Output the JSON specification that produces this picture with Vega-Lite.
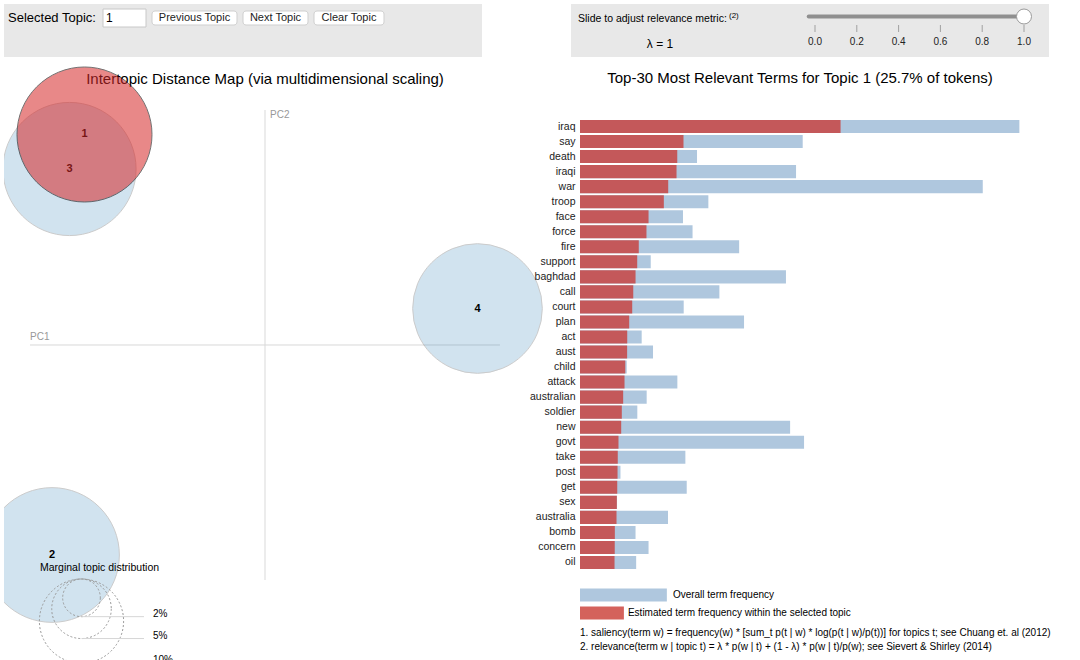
{
  "$schema": "https://vega.github.io/schema/vega-lite/v6.json",
  "padding": {"left": 4, "top": 4, "right": 0, "bottom": 0},
  "background": "white",
  "config": {
    "view": {"stroke": null},
    "font": "Liberation Sans"
  },
  "datasets": {
    "one": [{"k": 1}],
    "slider": [{"lambda": 1}],
    "lambdaTicks": [{"v": 0}, {"v": 0.2}, {"v": 0.4}, {"v": 0.6}, {"v": 0.8}, {"v": 1}],
    "topics": [
      {"topic": 3, "PC1": -0.16638, "PC2": 0.14979, "freq": 25.0},
      {"topic": 2, "PC1": -0.18128, "PC2": -0.17872, "freq": 25.6},
      {"topic": 4, "PC1": 0.18085, "PC2": 0.03106, "freq": 23.7},
      {"topic": 1, "PC1": -0.15362, "PC2": 0.17915, "freq": 25.7}
    ],
    "terms": [
      {"Term": "iraq", "Freq": 250.5, "Total": 422.4},
      {"Term": "say", "Freq": 99.5, "Total": 214.1},
      {"Term": "death", "Freq": 93.5, "Total": 112.5},
      {"Term": "iraqi", "Freq": 92.8, "Total": 207.7},
      {"Term": "war", "Freq": 84.8, "Total": 387.2},
      {"Term": "troop", "Freq": 80.6, "Total": 123.4},
      {"Term": "face", "Freq": 65.9, "Total": 99.0},
      {"Term": "force", "Freq": 63.9, "Total": 108.2},
      {"Term": "fire", "Freq": 56.5, "Total": 153.0},
      {"Term": "support", "Freq": 55.0, "Total": 68.0},
      {"Term": "baghdad", "Freq": 53.4, "Total": 198.0},
      {"Term": "call", "Freq": 51.2, "Total": 134.0},
      {"Term": "court", "Freq": 50.2, "Total": 99.7},
      {"Term": "plan", "Freq": 47.3, "Total": 157.7},
      {"Term": "act", "Freq": 45.4, "Total": 59.3},
      {"Term": "aust", "Freq": 45.3, "Total": 70.2},
      {"Term": "child", "Freq": 43.5, "Total": 44.9},
      {"Term": "attack", "Freq": 42.8, "Total": 93.6},
      {"Term": "australian", "Freq": 41.5, "Total": 64.1},
      {"Term": "soldier", "Freq": 40.2, "Total": 55.1},
      {"Term": "new", "Freq": 39.6, "Total": 202.0},
      {"Term": "govt", "Freq": 37.0, "Total": 215.4},
      {"Term": "take", "Freq": 36.3, "Total": 101.3},
      {"Term": "post", "Freq": 36.1, "Total": 38.9},
      {"Term": "get", "Freq": 35.8, "Total": 102.6},
      {"Term": "sex", "Freq": 35.4, "Total": 35.6},
      {"Term": "australia", "Freq": 35.1, "Total": 84.6},
      {"Term": "bomb", "Freq": 33.5, "Total": 53.4},
      {"Term": "concern", "Freq": 33.4, "Total": 65.9},
      {"Term": "oil", "Freq": 33.2, "Total": 54.0}
    ]
  },
  "bounds": "full",
  "spacing": 0,
  "vconcat": [
    {
      "bounds": "flush",
      "spacing": 89,
      "hconcat": [
        {
          "width": 478,
          "height": 53,
          "view": {"fill": "#e8e8e8", "stroke": null},
          "data": {"name": "one"},
          "layer": [
            {"mark": {"type": "text", "text": "Selected Topic:", "align": "left", "baseline": "middle", "fontSize": 13, "color": "#000"},
             "encoding": {"x": {"datum": 4, "type": "quantitative", "scale": {"domain": [0, 478], "nice": false, "zero": false}, "axis": null},
                          "y": {"datum": 14, "type": "quantitative", "scale": {"domain": [0, 53], "reverse": true, "nice": false, "zero": false}, "axis": null}}},
            {"mark": {"type": "rect", "fill": "#ffffff", "stroke": "#c8c8c8", "strokeWidth": 1},
             "encoding": {"x": {"datum": 99, "type": "quantitative", "scale": {"domain": [0, 478], "nice": false, "zero": false}, "axis": null}, "x2": {"datum": 142},
                          "y": {"datum": 5, "type": "quantitative", "scale": {"domain": [0, 53], "reverse": true, "nice": false, "zero": false}, "axis": null}, "y2": {"datum": 23}}},
            {"mark": {"type": "text", "text": "1", "align": "left", "baseline": "middle", "fontSize": 12, "color": "#000"},
             "encoding": {"x": {"datum": 102, "type": "quantitative", "scale": {"domain": [0, 478], "nice": false, "zero": false}, "axis": null},
                          "y": {"datum": 14, "type": "quantitative", "scale": {"domain": [0, 53], "reverse": true, "nice": false, "zero": false}, "axis": null}}},
            {"mark": {"type": "rect", "fill": "#ffffff", "stroke": "#cfcfcf", "strokeWidth": 1, "cornerRadius": 3},
             "encoding": {"x": {"datum": 148, "type": "quantitative", "scale": {"domain": [0, 478], "nice": false, "zero": false}, "axis": null}, "x2": {"datum": 233},
                          "y": {"datum": 7, "type": "quantitative", "scale": {"domain": [0, 53], "reverse": true, "nice": false, "zero": false}, "axis": null}, "y2": {"datum": 21}}},
            {"mark": {"type": "rect", "fill": "#ffffff", "stroke": "#cfcfcf", "strokeWidth": 1, "cornerRadius": 3},
             "encoding": {"x": {"datum": 239, "type": "quantitative", "scale": {"domain": [0, 478], "nice": false, "zero": false}, "axis": null}, "x2": {"datum": 304},
                          "y": {"datum": 7, "type": "quantitative", "scale": {"domain": [0, 53], "reverse": true, "nice": false, "zero": false}, "axis": null}, "y2": {"datum": 21}}},
            {"mark": {"type": "rect", "fill": "#ffffff", "stroke": "#cfcfcf", "strokeWidth": 1, "cornerRadius": 3},
             "encoding": {"x": {"datum": 310, "type": "quantitative", "scale": {"domain": [0, 478], "nice": false, "zero": false}, "axis": null}, "x2": {"datum": 380},
                          "y": {"datum": 7, "type": "quantitative", "scale": {"domain": [0, 53], "reverse": true, "nice": false, "zero": false}, "axis": null}, "y2": {"datum": 21}}},
            {"mark": {"type": "text", "text": "Previous Topic", "align": "center", "baseline": "middle", "fontSize": 11, "color": "#222"},
             "encoding": {"x": {"datum": 190.5, "type": "quantitative", "scale": {"domain": [0, 478], "nice": false, "zero": false}, "axis": null},
                          "y": {"datum": 14, "type": "quantitative", "scale": {"domain": [0, 53], "reverse": true, "nice": false, "zero": false}, "axis": null}}},
            {"mark": {"type": "text", "text": "Next Topic", "align": "center", "baseline": "middle", "fontSize": 11, "color": "#222"},
             "encoding": {"x": {"datum": 271.5, "type": "quantitative", "scale": {"domain": [0, 478], "nice": false, "zero": false}, "axis": null},
                          "y": {"datum": 14, "type": "quantitative", "scale": {"domain": [0, 53], "reverse": true, "nice": false, "zero": false}, "axis": null}}},
            {"mark": {"type": "text", "text": "Clear Topic", "align": "center", "baseline": "middle", "fontSize": 11, "color": "#222"},
             "encoding": {"x": {"datum": 345, "type": "quantitative", "scale": {"domain": [0, 478], "nice": false, "zero": false}, "axis": null},
                          "y": {"datum": 14, "type": "quantitative", "scale": {"domain": [0, 53], "reverse": true, "nice": false, "zero": false}, "axis": null}}}
          ]
        },
        {
          "width": 478,
          "height": 53,
          "view": {"fill": "#e8e8e8", "stroke": null},
          "layer": [
            {"data": {"name": "one"},
             "mark": {"type": "text", "text": "Slide to adjust relevance metric:", "align": "left", "baseline": "middle", "fontSize": 10.5, "color": "#000"},
             "encoding": {"x": {"datum": -1.133971, "type": "quantitative", "scale": {"domain": [-1.167464, 1.119617], "nice": false, "zero": false}, "axis": null},
                          "y": {"datum": 15, "type": "quantitative", "scale": {"domain": [0, 53], "reverse": true, "nice": false, "zero": false}, "axis": null}}},
            {"data": {"name": "one"},
             "mark": {"type": "text", "text": "(2)", "align": "left", "baseline": "middle", "fontSize": 8, "color": "#000"},
             "encoding": {"x": {"datum": -0.4115, "type": "quantitative", "scale": {"domain": [-1.167464, 1.119617], "nice": false, "zero": false}, "axis": null},
                          "y": {"datum": 11.5, "type": "quantitative", "scale": {"domain": [0, 53], "reverse": true, "nice": false, "zero": false}, "axis": null}}},
            {"data": {"name": "one"},
             "mark": {"type": "text", "text": "λ = 1", "align": "center", "baseline": "middle", "fontSize": 12, "color": "#000"},
             "encoding": {"x": {"datum": -0.741627, "type": "quantitative", "scale": {"domain": [-1.167464, 1.119617], "nice": false, "zero": false}, "axis": null},
                          "y": {"datum": 40, "type": "quantitative", "scale": {"domain": [0, 53], "reverse": true, "nice": false, "zero": false}, "axis": null}}},
            {"data": {"name": "lambdaTicks"},
             "mark": {"type": "rule", "color": "#a0a0a0", "strokeWidth": 1},
             "encoding": {"x": {"field": "v", "type": "quantitative", "scale": {"domain": [-1.167464, 1.119617], "nice": false, "zero": false}, "axis": null},
                          "y": {"datum": 21, "type": "quantitative", "scale": {"domain": [0, 53], "reverse": true, "nice": false, "zero": false}, "axis": null}, "y2": {"datum": 28}}},
            {"data": {"name": "lambdaTicks"},
             "mark": {"type": "text", "align": "center", "baseline": "middle", "fontSize": 10, "color": "#222"},
             "encoding": {"x": {"field": "v", "type": "quantitative", "scale": {"domain": [-1.167464, 1.119617], "nice": false, "zero": false}, "axis": null},
                          "y": {"datum": 37.7, "type": "quantitative", "scale": {"domain": [0, 53], "reverse": true, "nice": false, "zero": false}, "axis": null},
                          "text": {"field": "v", "type": "quantitative", "format": ".1f"}}},
            {"data": {"name": "one"},
             "mark": {"type": "rule", "color": "#8f8f8f", "strokeWidth": 4, "strokeCap": "round"},
             "encoding": {"x": {"datum": -0.03, "type": "quantitative", "scale": {"domain": [-1.167464, 1.119617], "nice": false, "zero": false}, "axis": null}, "x2": {"datum": 1.0},
                          "y": {"datum": 12.5, "type": "quantitative", "scale": {"domain": [0, 53], "reverse": true, "nice": false, "zero": false}, "axis": null}}},
            {"data": {"name": "slider"},
             "mark": {"type": "point", "shape": "circle", "filled": true, "fill": "#ffffff", "stroke": "#9a9a9a", "strokeWidth": 1, "size": 225, "opacity": 1},
             "encoding": {"x": {"field": "lambda", "type": "quantitative", "scale": {"domain": [-1.167464, 1.119617], "nice": false, "zero": false}, "axis": null},
                          "y": {"datum": 12.5, "type": "quantitative", "scale": {"domain": [0, 53], "reverse": true, "nice": false, "zero": false}, "axis": null}}}
          ]
        }
      ]
    },
    {
      "bounds": "flush",
      "spacing": 36,
      "hconcat": [
        {
          "width": 540,
          "height": 603,
          "layer": [
            {"data": {"name": "one"},
             "mark": {"type": "rule", "color": "#d9d9d9", "strokeWidth": 1, "clip": true},
             "encoding": {"x": {"datum": -0.2, "type": "quantitative", "scale": {"domain": [-0.222128, 0.237447], "nice": false, "zero": false}, "axis": null}, "x2": {"datum": 0.2},
                          "y": {"datum": 0, "type": "quantitative", "scale": {"domain": [-0.268085, 0.245106], "nice": false, "zero": false}, "axis": null}}},
            {"data": {"name": "one"},
             "mark": {"type": "rule", "color": "#d9d9d9", "strokeWidth": 1, "clip": true},
             "encoding": {"x": {"datum": 0, "type": "quantitative", "axis": null},
                          "y": {"datum": -0.2, "type": "quantitative", "axis": null}, "y2": {"datum": 0.2}}},
            {"data": {"name": "one"},
             "mark": {"type": "text", "text": "PC1", "align": "left", "baseline": "bottom", "dy": -3, "fontSize": 10, "color": "#999999"},
             "encoding": {"x": {"datum": -0.2, "type": "quantitative", "axis": null},
                          "y": {"datum": 0, "type": "quantitative", "axis": null}}},
            {"data": {"name": "one"},
             "mark": {"type": "text", "text": "PC2", "align": "left", "baseline": "top", "dx": 5, "fontSize": 10, "color": "#999999"},
             "encoding": {"x": {"datum": 0, "type": "quantitative", "axis": null},
                          "y": {"datum": 0.2, "type": "quantitative", "axis": null}}},
            {"data": {"name": "one"},
             "mark": {"type": "text", "text": "Intertopic Distance Map (via multidimensional scaling)", "align": "center", "baseline": "middle", "fontSize": 15, "color": "#000"},
             "encoding": {"x": {"datum": 0, "type": "quantitative", "axis": null},
                          "y": {"datum": 0.22638, "type": "quantitative", "axis": null}}},
            {"data": {"name": "topics"},
             "transform": [{"filter": "datum.topic != 1"}],
             "mark": {"type": "point", "shape": "circle", "filled": true, "fill": "#1f77b4", "stroke": "#000000", "strokeWidth": 1, "opacity": 0.2, "clip": true},
             "encoding": {"x": {"field": "PC1", "type": "quantitative", "axis": null},
                          "y": {"field": "PC2", "type": "quantitative", "axis": null},
                          "size": {"field": "freq", "type": "quantitative", "scale": {"type": "linear", "domain": [0, 100], "range": [0, 70914], "zero": true}, "legend": null}}},
            {"data": {"name": "topics"},
             "mark": {"type": "text", "align": "center", "baseline": "middle", "fontSize": 11, "fontWeight": "bold", "color": "#000"},
             "encoding": {"x": {"field": "PC1", "type": "quantitative", "axis": null},
                          "y": {"field": "PC2", "type": "quantitative", "axis": null},
                          "text": {"field": "topic", "type": "nominal"}}},
            {"data": {"name": "topics"},
             "transform": [{"filter": "datum.topic == 1"}],
             "mark": {"type": "point", "shape": "circle", "filled": true, "fill": "#d62728", "stroke": "#000000", "strokeWidth": 1, "opacity": 0.55, "clip": true},
             "encoding": {"x": {"field": "PC1", "type": "quantitative", "axis": null},
                          "y": {"field": "PC2", "type": "quantitative", "axis": null},
                          "size": {"field": "freq", "type": "quantitative", "legend": null}}},
            {"data": {"name": "one"},
             "mark": {"type": "text", "text": "Marginal topic distribution", "align": "left", "baseline": "alphabetic", "fontSize": 10.5, "color": "#000"},
             "encoding": {"x": {"datum": -0.19149, "type": "quantitative", "axis": null},
                          "y": {"datum": -0.19234, "type": "quantitative", "axis": null}}},
            {"data": {"name": "one"},
             "mark": {"type": "point", "shape": "circle", "filled": false, "stroke": "#999999", "strokeWidth": 1, "strokeDash": [2, 2], "opacity": 1, "clip": true},
             "encoding": {"x": {"datum": -0.15617, "type": "quantitative", "axis": null},
                          "y": {"datum": -0.21517, "type": "quantitative", "axis": null},
                          "size": {"datum": 2, "type": "quantitative", "legend": null}}},
            {"data": {"name": "one"},
             "mark": {"type": "point", "shape": "circle", "filled": false, "stroke": "#999999", "strokeWidth": 1, "strokeDash": [2, 2], "opacity": 1, "clip": true},
             "encoding": {"x": {"datum": -0.15617, "type": "quantitative", "axis": null},
                          "y": {"datum": -0.22449, "type": "quantitative", "axis": null},
                          "size": {"datum": 5, "type": "quantitative", "legend": null}}},
            {"data": {"name": "one"},
             "mark": {"type": "point", "shape": "circle", "filled": false, "stroke": "#999999", "strokeWidth": 1, "strokeDash": [2, 2], "opacity": 1, "clip": true},
             "encoding": {"x": {"datum": -0.15617, "type": "quantitative", "axis": null},
                          "y": {"datum": -0.23498, "type": "quantitative", "axis": null},
                          "size": {"datum": 10, "type": "quantitative", "legend": null}}},
            {"data": {"name": "one"},
             "mark": {"type": "rule", "color": "#d6d6d6", "strokeWidth": 1, "clip": true},
             "encoding": {"x": {"datum": -0.15617, "type": "quantitative", "axis": null}, "x2": {"datum": -0.10298},
                          "y": {"datum": -0.2312, "type": "quantitative", "axis": null}}},
            {"data": {"name": "one"},
             "mark": {"type": "rule", "color": "#d6d6d6", "strokeWidth": 1, "clip": true},
             "encoding": {"x": {"datum": -0.15617, "type": "quantitative", "axis": null}, "x2": {"datum": -0.10298},
                          "y": {"datum": -0.24982, "type": "quantitative", "axis": null}}},
            {"data": {"name": "one"},
             "mark": {"type": "rule", "color": "#d6d6d6", "strokeWidth": 1, "clip": true},
             "encoding": {"x": {"datum": -0.15617, "type": "quantitative", "axis": null}, "x2": {"datum": -0.10298},
                          "y": {"datum": -0.27081, "type": "quantitative", "axis": null}}},
            {"data": {"name": "one"},
             "mark": {"type": "text", "text": "2%", "align": "left", "baseline": "alphabetic", "fontSize": 10, "color": "#000", "clip": true},
             "encoding": {"x": {"datum": -0.09532, "type": "quantitative", "axis": null},
                          "y": {"datum": -0.2312, "type": "quantitative", "axis": null}}},
            {"data": {"name": "one"},
             "mark": {"type": "text", "text": "5%", "align": "left", "baseline": "alphabetic", "fontSize": 10, "color": "#000", "clip": true},
             "encoding": {"x": {"datum": -0.09532, "type": "quantitative", "axis": null},
                          "y": {"datum": -0.24982, "type": "quantitative", "axis": null}}},
            {"data": {"name": "one"},
             "mark": {"type": "text", "text": "10%", "align": "left", "baseline": "alphabetic", "fontSize": 10, "color": "#000", "clip": true},
             "encoding": {"x": {"datum": -0.09532, "type": "quantitative", "axis": null},
                          "y": {"datum": -0.27081, "type": "quantitative", "axis": null}}}
          ]
        },
        {
          "bounds": "flush",
          "spacing": 16,
          "vconcat": [
            {
              "width": 440,
              "height": 45.5,
              "data": {"values": [{"title": "Top-30 Most Relevant Terms for Topic 1 (25.7% of tokens)"}]},
              "mark": {"type": "text", "align": "center", "baseline": "middle", "fontSize": 15, "color": "#000", "dy": -2},
              "encoding": {"text": {"field": "title", "type": "nominal"}}
            },
            {
              "width": 440,
              "height": 451,
              "data": {"name": "terms"},
              "encoding": {
                "y": {"field": "Term", "type": "nominal", "sort": null,
                      "scale": {"paddingInner": 0.13, "paddingOuter": 0.065},
                      "axis": {"title": null, "ticks": false, "domain": false, "labelPadding": 5, "labelFontSize": 10.5, "labelColor": "#222"}}
              },
              "layer": [
                {"mark": {"type": "bar", "color": "#afc7de"},
                 "encoding": {"x": {"field": "Total", "type": "quantitative", "scale": {"domain": [0, 423], "nice": false},
                                    "axis": {"orient": "top", "values": [0, 100, 200, 300, 400], "title": null, "grid": false, "ticks": false, "domain": false, "labelPadding": 9, "labelFontSize": 10.5, "labelColor": "#222", "labelFlush": false}}}},
                {"mark": {"type": "bar", "color": "#c4585a"},
                 "encoding": {"x": {"field": "Freq", "type": "quantitative", "axis": null}}}
              ]
            },
            {
              "width": 440,
              "height": 36,
              "data": {"name": "one"},
              "title": {
                "text": ["1. saliency(term w) = frequency(w) * [sum_t p(t | w) * log(p(t | w)/p(t))] for topics t; see Chuang et. al (2012)",
                         "2. relevance(term w | topic t) = λ * p(w | t) + (1 - λ) * p(w | t)/p(w); see Sievert & Shirley (2014)"],
                "orient": "bottom", "anchor": "start", "frame": "group", "fontSize": 10, "fontWeight": "normal", "lineHeight": 14, "offset": 6, "color": "#000"
              },
              "layer": [
                {"mark": {"type": "rect", "fill": "#afc7de"},
                 "encoding": {"x": {"datum": 0, "type": "quantitative", "scale": {"domain": [0, 423], "nice": false}, "axis": null}, "x2": {"datum": 83.5},
                              "y": {"datum": "Overall term frequency", "type": "nominal", "scale": {"domain": ["Overall term frequency", "Estimated term frequency within the selected topic"], "paddingInner": 0.278, "paddingOuter": 0.139}, "axis": null}}},
                {"mark": {"type": "rect", "fill": "#d4625c"},
                 "encoding": {"x": {"datum": 0, "type": "quantitative", "axis": null}, "x2": {"datum": 42.2},
                              "y": {"datum": "Estimated term frequency within the selected topic", "type": "nominal", "axis": null}}},
                {"mark": {"type": "text", "text": "Overall term frequency", "align": "left", "baseline": "middle", "fontSize": 10, "color": "#000"},
                 "encoding": {"x": {"datum": 89.3, "type": "quantitative", "axis": null},
                              "y": {"datum": "Overall term frequency", "type": "nominal", "axis": null}}},
                {"mark": {"type": "text", "text": "Estimated term frequency within the selected topic", "align": "left", "baseline": "middle", "fontSize": 10, "color": "#000"},
                 "encoding": {"x": {"datum": 46.1, "type": "quantitative", "axis": null},
                              "y": {"datum": "Estimated term frequency within the selected topic", "type": "nominal", "axis": null}}}
              ]
            }
          ]
        }
      ]
    }
  ]
}
